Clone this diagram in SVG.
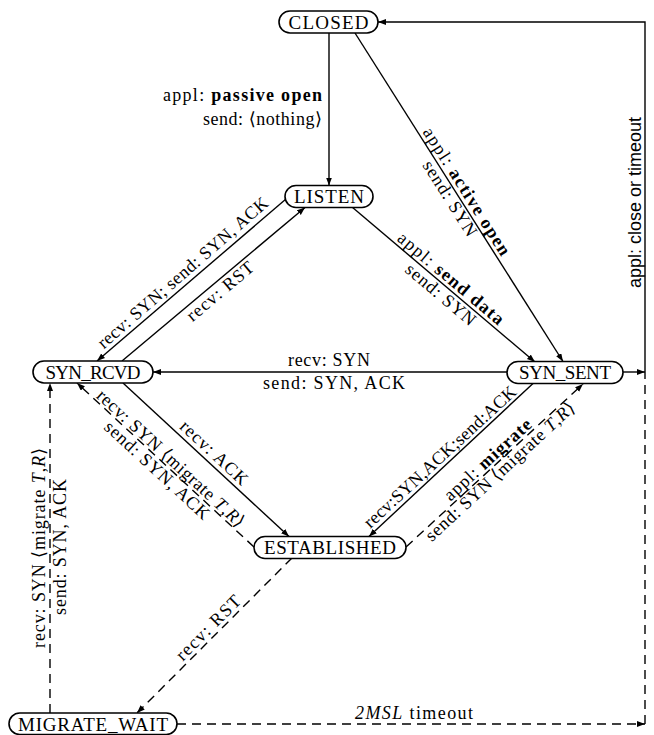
<svg xmlns="http://www.w3.org/2000/svg" width="654" height="735" viewBox="0 0 654 735">
<style>
.bg{fill:#fff}
.node rect{fill:#fff;stroke:#000;stroke-width:1.6}
.nt{font-family:"Liberation Serif","DejaVu Serif",serif;font-size:19px;text-anchor:middle;fill:#000}
.lbl{font-family:"Liberation Serif","DejaVu Serif",serif;font-size:18px;fill:#000;text-anchor:middle}
.sans{font-family:"Liberation Sans","DejaVu Sans",sans-serif;font-size:18px;fill:#000}
.ln{fill:none;stroke:#000;stroke-width:1.4}
.ar{marker-end:url(#arr)}
.dash{stroke-dasharray:9 6}
.b{font-weight:bold}
.i{font-style:italic}
</style>
<defs>
<marker id="arr" markerUnits="userSpaceOnUse" markerWidth="10" markerHeight="8" refX="8" refY="3" orient="auto" viewBox="0 0 10 8">
<path d="M0,0 L8,3 L0,6 z" fill="#000"/>
</marker>
</defs>
<rect class="bg" x="0" y="0" width="654" height="735"/>
<g id="connectors">
<path class="ln ar" d="M329,33 V185.5"/>
<path class="ln ar" d="M355,33 L563,361.5"/>
<path class="ln ar" d="M352,207 L535,362"/>
<path class="ln ar" d="M286,199 L97,361"/>
<path class="ln ar" d="M122,361 L305,207.5"/>
<path class="ln ar" d="M507,372 L153,372"/>
<path class="ln ar" d="M123,383 L289,536.5"/>
<path class="ln ar" d="M533,383.5 L369,536.5"/>
<path class="ln ar dash" d="M406,547 L583,384"/>
<path class="ln ar dash" d="M254,547 L77,383"/>
<path class="ln ar dash" d="M50,713 V383"/>
<path class="ln ar dash" d="M292,558 L137,713"/>
<path class="ln ar dash" d="M177,724 H645"/>
<path class="ln dash" d="M645,724 V372"/>
<path class="ln ar" d="M623,372 H645"/>
<path class="ln ar" d="M645,372 V22 H378"/>
<!-- labels -->
<text class="lbl" x="322" y="101" text-anchor="end" style="text-anchor:end" textLength="159">appl: <tspan class="b">passive open</tspan></text>
<text class="lbl" x="322" y="125" style="text-anchor:end" textLength="119">send: ⟨nothing⟩</text>
<g transform="translate(459,197.5) rotate(57.7)">
<text class="lbl" x="-1" y="-4" textLength="148">appl: <tspan class="b">active open</tspan></text>
<text class="lbl" x="-4" y="14" textLength="86">send: SYN</text>
</g>
<g transform="translate(443.5,285) rotate(40.1)">
<text class="lbl" x="1.5" y="-4" textLength="133">appl: <tspan class="b">send data</tspan></text>
<text class="lbl" x="4" y="15" textLength="86">send: SYN</text>
</g>
<g transform="translate(191,280) rotate(-41.1)">
<text class="lbl" x="-1.5" y="-5" textLength="220">recv: SYN; send: SYN, ACK</text>
</g>
<g transform="translate(213.5,285) rotate(-40.1)">
<text class="lbl" x="1" y="15" textLength="82">recv: RST</text>
</g>
<text class="lbl" x="329" y="366" textLength="82">recv: SYN</text>
<text class="lbl" x="334" y="389" textLength="142">send: SYN, ACK</text>
<g transform="translate(206,460) rotate(42.9)">
<text class="lbl" x="1" y="-5" textLength="86">recv: ACK</text>
</g>
<g transform="translate(451,461.5) rotate(-42.6)">
<text class="lbl" x="-5" y="-5" textLength="200">recv:SYN,ACK;send:ACK</text>
</g>
<g transform="translate(494.5,465.5) rotate(-42.6)">
<text class="lbl" x="-1" y="-3" textLength="112">appl: <tspan class="b">migrate</tspan></text>
<text class="lbl" x="0" y="14" textLength="196">send: SYN ⟨migrate <tspan class="i">T</tspan>,<tspan class="i">R</tspan>⟩</text>
</g>
<g transform="translate(165.5,465.5) rotate(42.6)">
<text class="lbl" x="-1" y="-3" textLength="194">recv: SYN ⟨migrate <tspan class="i">T</tspan>,<tspan class="i">R</tspan>⟩</text>
<text class="lbl" x="-3" y="15" textLength="136">send: SYN, ACK</text>
</g>
<g transform="translate(50,548) rotate(-90)">
<text class="lbl" x="0" y="-5" textLength="200">recv: SYN ⟨migrate <tspan class="i">T</tspan>,<tspan class="i">R</tspan>⟩</text>
<text class="lbl" x="1" y="16" textLength="136">send: SYN, ACK</text>
</g>
<g transform="translate(214.5,635.5) rotate(-45)">
<text class="lbl" x="1" y="-4" textLength="84">recv: RST</text>
</g>
<g transform="translate(645,288) rotate(-90)">
<text class="sans" x="0" y="-4">appl: close or timeout</text>
</g>
<text class="lbl" x="355" y="719" style="text-anchor:start" textLength="118"><tspan class="i">2MSL</tspan> timeout</text>
</g>
<g id="closed" class="node"><rect x="279" y="11" width="99" height="22" rx="11"/><text class="nt" x="328.5" y="28.5" textLength="80">CLOSED</text></g>
<g id="listen" class="node"><rect x="285" y="185.5" width="88" height="22" rx="11"/><text class="nt" x="329" y="203" textLength="70">LISTEN</text></g>
<g id="syn_rcvd" class="node"><rect x="33" y="361" width="120" height="22" rx="11"/><text class="nt" x="93" y="378.5" textLength="95">SYN_RCVD</text></g>
<g id="syn_sent" class="node"><rect x="507" y="361.5" width="116" height="22" rx="11"/><text class="nt" x="565" y="379" textLength="92">SYN_SENT</text></g>
<g id="established" class="node"><rect x="254" y="536.5" width="152" height="22" rx="11"/><text class="nt" x="330" y="554" textLength="132">ESTABLISHED</text></g>
<g id="migrate_wait" class="node"><rect x="9" y="713" width="168" height="21.5" rx="10.75"/><text class="nt" x="93" y="730.5" textLength="150">MIGRATE_WAIT</text></g>
</svg>
